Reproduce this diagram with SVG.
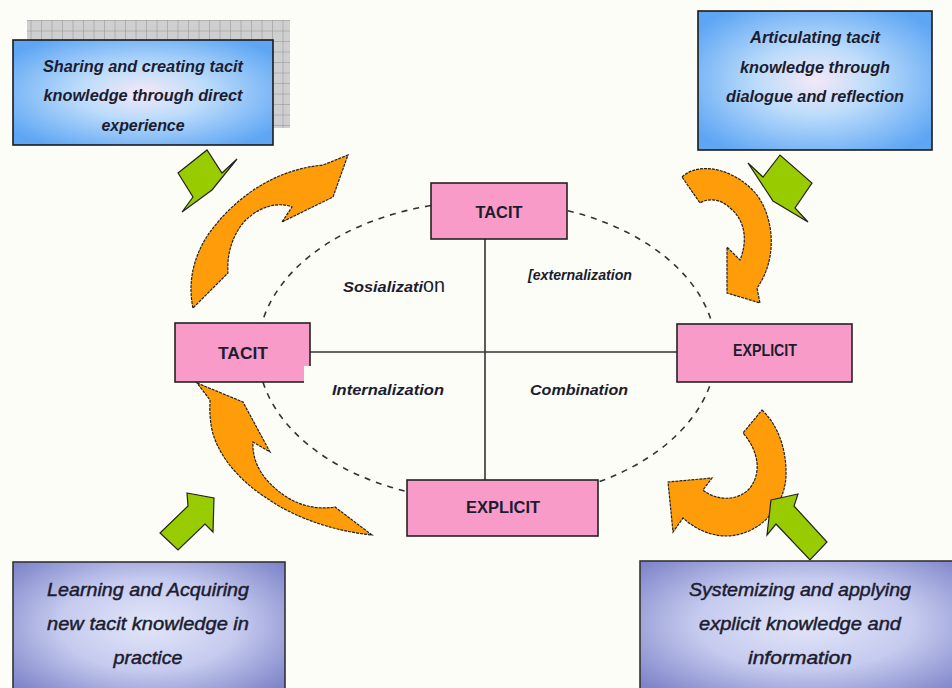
<svg xmlns="http://www.w3.org/2000/svg" width="952" height="688" viewBox="0 0 952 688">
  <defs>
    <style>
      .lbl { font-family: "Liberation Sans", Arial, sans-serif; fill: #1c1c30; text-anchor: middle; }
      .note { font-style: italic; font-weight: bold; font-size: 16px; }
      .note2 { font-style: italic; font-size: 18px; stroke: #1c1c30; stroke-width: 0.45; }
      .quad { font-style: italic; font-weight: bold; font-size: 15px; }
      .mode { font-weight: bold; font-size: 17px; }
      .pink { fill: #f99bc8; stroke: #222; stroke-width: 1.6; }
      .blue { fill: url(#gBlue); stroke: #1a1a1a; stroke-width: 1.6; }
      .violet { fill: url(#gViolet); stroke: #333; stroke-width: 1.6; }
      .orange { fill: #ff9c0a; stroke: #222; stroke-width: 1.2; stroke-dasharray: 3 1; }
      .green { fill: #99cc00; stroke: #222; stroke-width: 1.2; }
      .axis { stroke: #333; stroke-width: 1.6; fill: none; }
      .cycle { stroke: #333; stroke-width: 1.6; fill: none; stroke-dasharray: 6 6; }
    </style>
    <radialGradient id="gBlue" cx="0.5" cy="0.5" r="0.62">
      <stop offset="0" stop-color="#f4e8f6"/>
      <stop offset="0.4" stop-color="#bcdcfb"/>
      <stop offset="1" stop-color="#5ea6f4"/>
    </radialGradient>
    <radialGradient id="gViolet" cx="0.5" cy="0.45" r="0.65">
      <stop offset="0" stop-color="#e2e6f8"/>
      <stop offset="0.5" stop-color="#c6cbef"/>
      <stop offset="1" stop-color="#7f85c9"/>
    </radialGradient>
    <pattern id="grid" width="10.5" height="10.5" patternUnits="userSpaceOnUse">
      <rect width="10.5" height="10.5" fill="#cfcfcf"/>
      <path d="M10.5 0V10.5M0 10.5H10.5" stroke="#8f8f8f" stroke-width="1"/>
    </pattern>
  </defs>

  <rect width="952" height="688" fill="#fdfdf8"/>

  <!-- dashed knowledge cycle and the two axes -->
  <g id="connectors">
    <ellipse class="cycle" cx="487" cy="351" rx="229" ry="150"/>
    <line class="axis" x1="485" y1="239" x2="485" y2="480"/>
    <line class="axis" x1="310" y1="352" x2="677" y2="352"/>
  </g>

  <!-- quadrant labels -->
  <g id="quadrants">
    <text class="lbl quad" x="343" y="292" text-anchor="start" style="text-anchor:start" textLength="80" lengthAdjust="spacingAndGlyphs">Sosializati</text>
    <text class="lbl" x="423" y="292" style="text-anchor:start" font-size="20px" textLength="22" lengthAdjust="spacingAndGlyphs">on</text>
    <text class="lbl quad" x="580" y="280" font-size="12px" textLength="104" lengthAdjust="spacingAndGlyphs">[externalization</text>
    <text class="lbl quad" x="388" y="395" textLength="112" lengthAdjust="spacingAndGlyphs">Internalization</text>
    <text class="lbl quad" x="579" y="395" textLength="98" lengthAdjust="spacingAndGlyphs">Combination</text>
  </g>

  <!-- mode boxes -->
  <g id="tacit-top">
    <rect class="pink" x="431" y="183" width="136" height="56"/>
    <text class="lbl mode" x="499" y="218" textLength="47" lengthAdjust="spacingAndGlyphs">TACIT</text>
  </g>
  <g id="tacit-left">
    <rect class="pink" x="175" y="323" width="135" height="59"/>
    <rect x="304" y="366" width="8" height="18" fill="#fdfdf8"/>
    <text class="lbl mode" x="243" y="359" textLength="50" lengthAdjust="spacingAndGlyphs">TACIT</text>
  </g>
  <g id="explicit-right">
    <rect class="pink" x="677" y="324" width="175" height="58"/>
    <text class="lbl mode" x="765" y="356" font-size="15px" textLength="64" lengthAdjust="spacingAndGlyphs">EXPLICIT</text>
  </g>
  <g id="explicit-bottom">
    <rect class="pink" x="407" y="480" width="191" height="56"/>
    <text class="lbl mode" x="503" y="513" font-size="18px" textLength="74" lengthAdjust="spacingAndGlyphs">EXPLICIT</text>
  </g>

  <!-- curved cycle arrows -->
  <g id="cycle-arrows">
    <path class="orange" d="M193,308 C187,280 195,253 210,232 C232,202 270,170 323,165 L348,155 L333,197 L282,222 L292,207 C275,200 252,210 240,227 C230,242 227,258 228,273 Z"/>
    <path class="orange" d="M682,177 C700,160 737,170 757,195 C775,220 777,260 757,288 L760,303 L727,293 L727,247 L740,260 C748,240 745,220 730,208 C722,200 710,197 700,203 Z"/>
    <path class="orange" d="M762,410 C778,425 787,450 786,477 C784,507 760,535 727,536 C710,536 695,529 683,518 L673,532 L668,482 L712,478 L703,490 C715,500 735,502 748,490 C760,478 762,455 743,433 Z"/>
    <path class="orange" d="M197,383 L243,402 L270,452 L253,442 C252,462 262,480 285,496 C300,506 318,510 335,507 L372,535 C340,532 298,520 268,499 C238,480 218,455 212,430 C209,415 210,405 210,400 Z"/>
  </g>

  <!-- block arrows from the notes -->
  <g id="note-arrows">
    <polygon class="green" points="178,173 207,150 222,173 237,159 212,190 182,212 193,197"/>
    <polygon class="green" points="748,163 763,177 780,155 812,183 795,208 808,222 773,201"/>
    <polygon class="green" points="187,493 214,498 213,532 205,524 178,550 160,533 188,506"/>
    <polygon class="green" points="771,500 798,494 794,506 827,542 810,560 776,524 767,535"/>
  </g>

  <!-- note boxes -->
  <g id="note-socialization">
    <rect x="27" y="20" width="263" height="108" fill="url(#grid)"/>
    <rect class="blue" x="13" y="40" width="260" height="105"/>
    <text class="lbl note" x="143" y="72" textLength="200" lengthAdjust="spacingAndGlyphs">Sharing and creating tacit</text>
    <text class="lbl note" x="143" y="101" textLength="199" lengthAdjust="spacingAndGlyphs">knowledge through direct</text>
    <text class="lbl note" x="143" y="131" textLength="83" lengthAdjust="spacingAndGlyphs">experience</text>
  </g>
  <g id="note-externalization">
    <rect class="blue" x="698" y="11" width="234" height="139"/>
    <text class="lbl note" x="815" y="43" textLength="130" lengthAdjust="spacingAndGlyphs">Articulating tacit</text>
    <text class="lbl note" x="815" y="73" textLength="150" lengthAdjust="spacingAndGlyphs">knowledge through</text>
    <text class="lbl note" x="815" y="102" textLength="178" lengthAdjust="spacingAndGlyphs">dialogue and reflection</text>
  </g>
  <g id="note-internalization">
    <rect class="violet" x="13" y="562" width="272" height="140"/>
    <text class="lbl note2" x="148" y="596" textLength="202" lengthAdjust="spacingAndGlyphs">Learning and Acquiring</text>
    <text class="lbl note2" x="148" y="630" textLength="202" lengthAdjust="spacingAndGlyphs">new tacit knowledge in</text>
    <text class="lbl note2" x="148" y="664" textLength="69" lengthAdjust="spacingAndGlyphs">practice</text>
  </g>
  <g id="note-combination">
    <rect class="violet" x="640" y="561" width="330" height="140"/>
    <text class="lbl note2" x="800" y="596" textLength="222" lengthAdjust="spacingAndGlyphs">Systemizing and applying</text>
    <text class="lbl note2" x="800" y="630" textLength="202" lengthAdjust="spacingAndGlyphs">explicit knowledge and</text>
    <text class="lbl note2" x="800" y="664" textLength="104" lengthAdjust="spacingAndGlyphs">information</text>
  </g>
</svg>
